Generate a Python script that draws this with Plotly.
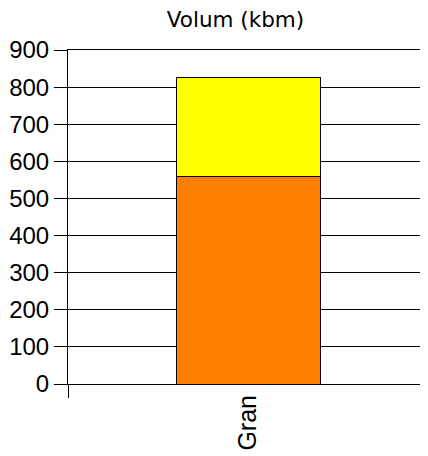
import plotly.graph_objects as go

categories = ["Gran"]
lower_values = [558]
upper_values = [267]
y_ticks = [0, 100, 200, 300, 400, 500, 600, 700, 800, 900]

fig = go.Figure()
fig.add_trace(
    go.Bar(
        x=categories,
        y=lower_values,
        name="Del 1",
        marker=dict(color="#FF8000", line=dict(color="black", width=1)),
    )
)
fig.add_trace(
    go.Bar(
        x=categories,
        y=upper_values,
        name="Del 2",
        marker=dict(color="#FFFF00", line=dict(color="black", width=1)),
    )
)

# page body adds an 8px offset, so the figure is laid out 8px smaller
fig.update_layout(
    width=420,
    height=448,
    barmode="stack",
    bargap=0.6,
    showlegend=False,
    plot_bgcolor="white",
    paper_bgcolor="white",
    margin=dict(l=60, r=0, t=42, b=72),
    title=dict(
        text="Volum (kbm)",
        x=227.5 / 420,
        xanchor="center",
        xref="container",
        y=1 - 11 / 448,
        yanchor="middle",
        yref="container",
        font=dict(family="DejaVu Sans", size=21.5, color="black"),
    ),
    yaxis=dict(
        range=[0, 900],
        tickvals=y_ticks,
        ticks="outside",
        ticklen=13,
        tickcolor="black",
        showgrid=True,
        gridcolor="black",
        gridwidth=1,
        zeroline=True,
        zerolinecolor="black",
        zerolinewidth=1,
        showline=True,
        linecolor="black",
        linewidth=1,
        tickfont=dict(family="Liberation Sans", size=24, color="black"),
    ),
    xaxis=dict(
        tickangle=-90,
        ticks="outside",
        tickson="boundaries",
        ticklen=13,
        tickcolor="black",
        showgrid=False,
        showline=True,
        mirror=True,
        linecolor="black",
        linewidth=1,
        tickfont=dict(family="Liberation Sans", size=25, color="black"),
    ),
)

fig.write_html("out.html")
